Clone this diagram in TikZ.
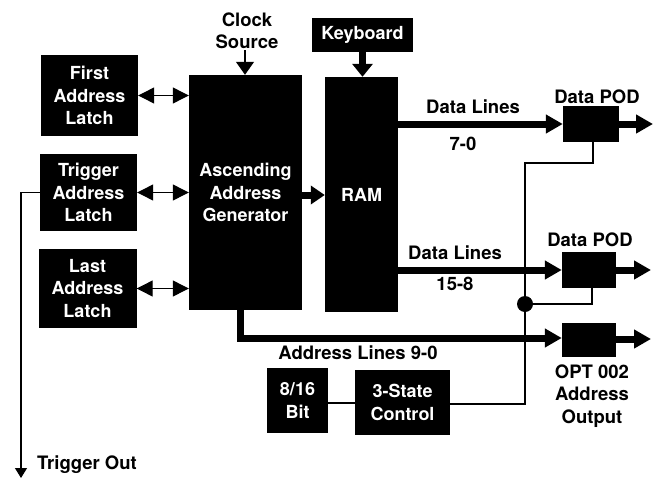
\documentclass[tikz,border=0pt]{standalone}
\usepackage{fontspec}
\setmainfont{TeX Gyre Heros}
\usetikzlibrary{arrows.meta}
\begin{document}
\begin{tikzpicture}[x=1pt,y=-1pt,
  blk/.style={fill=black,text=white,font=\bfseries\fontsize{18}{22.5}\selectfont,align=center,inner sep=0pt},
  lbl/.style={font=\bfseries\fontsize{18.5}{22.5}\selectfont,align=center,inner sep=0pt},
  thin/.style={line width=1.2pt},
  bus/.style={line width=7pt,-{Triangle[length=17pt,width=18pt]}},
  bidir/.style={line width=1.2pt,{Triangle[length=16pt,width=16pt]}-{Triangle[length=16pt,width=16pt]}},
  smallarr/.style={line width=1.2pt,-{Triangle[length=13pt,width=18pt]}}
]
\useasboundingbox (0,0) rectangle (660,479);
% blocks
\node[blk,minimum width=97pt,minimum height=81pt] (first) at (89.5,95.5) {First\\Address\\Latch};
\node[blk,minimum width=97pt,minimum height=77pt] (trig) at (88.5,192.5) {Trigger\\Address\\Latch};
\node[blk,minimum width=98pt,minimum height=79pt] (last) at (87.5,288.5) {Last\\Address\\Latch};
\node[blk,minimum width=113pt,minimum height=235pt] (aag) at (245.5,192.5) {Ascending\\Address\\Generator};
\node[blk,minimum width=73pt,minimum height=235pt] (ram) at (361.5,194.5) {RAM};
\node[blk,minimum width=101pt,minimum height=34pt] (kb) at (362.5,35) {Keyboard};
\node[blk,minimum width=56pt,minimum height=36pt] (pod1) at (591,124) {};
\node[blk,minimum width=54pt,minimum height=36pt] (pod2) at (589,270) {};
\node[blk,minimum width=54pt,minimum height=34pt] (opt) at (589,340) {};
\node[blk,minimum width=61pt,minimum height=65pt] (bit) at (297.5,400.5) {8/16\\Bit};
\node[blk,minimum width=95pt,minimum height=65pt] (tsc) at (402.5,402.5) {3-State\\Control};
% labels
\node[lbl] (clk) at (247,31) {Clock\\Source};
\node[lbl] (dl1) at (473,107) {Data Lines};
\node[lbl] (dl1n) at (463,144) {7-0};
\node[lbl] (dl2) at (455,253) {Data Lines};
\node[lbl] (dl2n) at (455,284) {15-8};
\node[lbl] (al) at (358,353) {Address Lines 9-0};
\node[lbl] (p1l) at (597,97) {Data POD};
\node[lbl] (p2l) at (590,240) {Data POD};
\node[lbl] (optl) at (592,396) {OPT 002\\Address\\Output};
\node[lbl,anchor=west] (tol) at (37,465) {Trigger Out};
% coordinates
\coordinate (clkb) at (245,50);
\coordinate (tl) at (21,192.5);
\coordinate (tout) at (21,478);
\coordinate (a1) at (240,338);
\coordinate (j1) at (525,404);
\coordinate (j2) at (525,163);
\coordinate (j3) at (593,163);
\coordinate (dot) at (525,304);
\coordinate (j4) at (592,304);
\coordinate (o1) at (653,124);
\coordinate (o2) at (651,270);
\coordinate (o3) at (651,339);
% connectors
\draw[bidir] (first.east) -- (aag.west |- first.east);
\draw[bidir] (trig.east) -- (aag.west |- trig.east);
\draw[bidir] (last.east) -- (aag.west |- last.east);
\draw[smallarr] (clkb) -- (aag.north -| clkb);
\draw[line width=7pt,-{Triangle[length=13pt,width=20pt]}] (kb.south) -- (ram.north -| kb.south);
\draw[line width=7pt,-{Triangle[length=14pt,width=18pt]}] (aag.east |- 0,195) -- (ram.west |- 0,195);
\draw[bus] (ram.east |- pod1.west) -- (pod1.west);
\draw[bus] (ram.east |- pod2.west) -- (pod2.west);
\draw[bus] (aag.south -| a1) -- (a1) -- (opt.west |- a1);
\draw[bus] (pod1.east) -- (o1);
\draw[bus] (pod2.east) -- (o2);
\draw[bus] (opt.east |- o3) -- (o3);
\draw[thin,-{Triangle[length=10pt,width=12pt]}] (trig.west) -- (tl) -- (tout);
\draw[thin] (bit.east |- 0,403) -- (tsc.west |- 0,403);
\draw[thin] (tsc.east |- j1) -- (j1) -- (j2) -- (j3) -- (pod1.south -| j3);
\draw[thin] (dot) -- (j4) -- (pod2.south -| j4);
\fill (dot) circle (8pt);
\end{tikzpicture}
\end{document}
